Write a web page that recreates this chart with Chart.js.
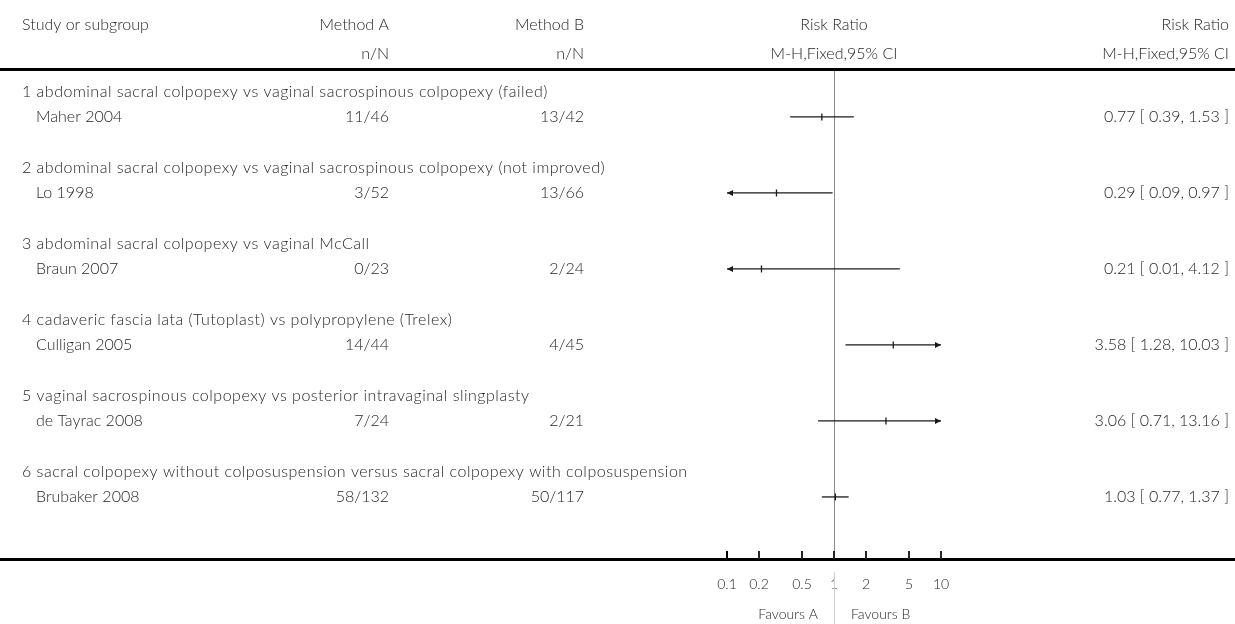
<!DOCTYPE html>
<html>
<head>
<meta charset="utf-8">
<script src="https://cdn.jsdelivr.net/npm/chart.js@4/dist/chart.umd.min.js"></script>
<style>
  html, body { margin: 0; padding: 0; background: #fff; }
  #wrap { position: relative; width: 1235px; height: 624px; }
</style>
</head>
<body>
<div id="wrap"><canvas id="forest"></canvas></div>
<script>
const subgroups = [
  "1 abdominal sacral colpopexy vs vaginal sacrospinous colpopexy (failed)",
  "2 abdominal sacral colpopexy vs vaginal sacrospinous colpopexy (not improved)",
  "3 abdominal sacral colpopexy vs vaginal McCall",
  "4 cadaveric fascia lata (Tutoplast) vs polypropylene (Trelex)",
  "5 vaginal sacrospinous colpopexy vs posterior intravaginal slingplasty",
  "6 sacral colpopexy without colposuspension versus sacral colpopexy with colposuspension"
];
const studies = ["Maher 2004", "Lo 1998", "Braun 2007", "Culligan 2005", "de Tayrac 2008", "Brubaker 2008"];
const methodA = ["11/46", "3/52", "0/23", "14/44", "7/24", "58/132"];
const methodB = ["13/42", "13/66", "2/24", "4/45", "2/21", "50/117"];
const riskRatio = [0.77, 0.29, 0.21, 3.58, 3.06, 1.03];
const ciLow = [0.39, 0.09, 0.01, 1.28, 0.71, 0.77];
const ciHigh = [1.53, 0.97, 4.12, 10.03, 13.16, 1.37];
const tickValues = [0.1, 0.2, 0.5, 1, 2, 5, 10];
const tickLabels = ["0.1", "0.2", "0.5", "1", "2", "5", "10"];
const favours = ["Favours A", "Favours B"];

const X_MIN = 0.1, X_MAX = 10;
const FONT = "Lato, 'Open Sans', sans-serif";
const TEXT = "#262626";

// row positions: subgroup title on 3k+1, study line on 3k+2
const titleRow = subgroups.map((s, i) => 3 * i + 1);
const studyRow = studies.map((s, i) => 3 * i + 2);

const ciSets = studies.map((s, i) => ({
  label: s,
  data: [
    { x: Math.max(ciLow[i], X_MIN), y: studyRow[i] },
    { x: Math.min(ciHigh[i], X_MAX), y: studyRow[i] }
  ],
  showLine: true,
  borderColor: "#1a1a1a",
  borderWidth: 1.3,
  pointRadius: 0,
  clip: false
}));

const pointSet = {
  label: "RR",
  data: riskRatio.map((v, i) => ({ x: v, y: studyRow[i] })),
  pointStyle: "line",
  rotation: 90,
  radius: 3.5,
  borderColor: "#1a1a1a",
  borderWidth: 1.3,
  clip: false
};

function txt(ctx, s, x, y, align, size, spacing) {
  ctx.font = "300 " + (size || 16) + "px " + FONT;
  ctx.letterSpacing = (spacing || 0) + "px";
  ctx.textAlign = align || "left";
  ctx.textBaseline = "middle";
  ctx.fillStyle = TEXT;
  ctx.fillText(s, x, y);
  ctx.letterSpacing = "0px";
}

const forestPlugin = {
  id: "forest",
  beforeDatasetsDraw(chart) {
    const { ctx, chartArea, scales } = chart;
    const x1 = scales.x.getPixelForValue(1);
    ctx.save();
    ctx.strokeStyle = "#8a8a8a";
    ctx.lineWidth = 1;
    ctx.beginPath();
    ctx.moveTo(x1 + 0.5, chartArea.top);
    ctx.lineTo(x1 + 0.5, chartArea.bottom);
    ctx.stroke();
    ctx.restore();
  },
  afterDraw(chart) {
    const { ctx, chartArea, scales, width } = chart;
    const xs = scales.x, ys = scales.y;
    const x1 = xs.getPixelForValue(1);
    ctx.save();

    // header
    txt(ctx, "Study or subgroup", 22, 25);
    txt(ctx, "Method A", 389, 25, "right");
    txt(ctx, "n/N", 389, 54, "right");
    txt(ctx, "Method B", 584, 25, "right");
    txt(ctx, "n/N", 584, 54, "right");
    txt(ctx, "Risk Ratio", x1, 25, "center");
    txt(ctx, "M-H,Fixed,95% CI", x1, 54, "center");
    txt(ctx, "Risk Ratio", 1229, 25, "right");
    txt(ctx, "M-H,Fixed,95% CI", 1229, 54, "right");

    // horizontal rules
    ctx.fillStyle = "#000";
    ctx.fillRect(0, chartArea.top - 2, width, 3);
    ctx.fillRect(0, chartArea.bottom - 1, width, 3);

    // rows
    subgroups.forEach((s, i) => {
      const yt = ys.getPixelForValue(titleRow[i]);
      const yr = ys.getPixelForValue(studyRow[i]);
      txt(ctx, s, 22, yt, "left", 16, 0.5);
      txt(ctx, studies[i], 36, yr);
      txt(ctx, methodA[i], 389, yr, "right");
      txt(ctx, methodB[i], 584, yr, "right");
      txt(ctx, riskRatio[i].toFixed(2) + " [ " + ciLow[i].toFixed(2) + ", " + ciHigh[i].toFixed(2) + " ]", 1229, yr, "right");

      // arrows where the interval runs past the axis
      ctx.fillStyle = "#1a1a1a";
      if (ciLow[i] < X_MIN) {
        const ax = xs.getPixelForValue(X_MIN);
        ctx.beginPath();
        ctx.moveTo(ax, yr);
        ctx.lineTo(ax + 6, yr - 3);
        ctx.lineTo(ax + 6, yr + 3);
        ctx.closePath();
        ctx.fill();
      }
      if (ciHigh[i] > X_MAX) {
        const ax = xs.getPixelForValue(X_MAX);
        ctx.beginPath();
        ctx.moveTo(ax, yr);
        ctx.lineTo(ax - 6, yr - 3);
        ctx.lineTo(ax - 6, yr + 3);
        ctx.closePath();
        ctx.fill();
      }
    });

    // axis ticks and labels
    ctx.fillStyle = "#000";
    tickValues.forEach((v, i) => {
      const px = Math.round(xs.getPixelForValue(v));
      ctx.fillRect(px - 1, chartArea.bottom - 8, 2, 8);
      txt(ctx, tickLabels[i], px, 584, "center", 14);
    });

    // favours
    ctx.strokeStyle = "#d0d0d0";
    ctx.lineWidth = 1;
    ctx.beginPath();
    ctx.moveTo(x1 + 0.5, 572);
    ctx.lineTo(x1 + 0.5, 624);
    ctx.stroke();
    txt(ctx, favours[0], x1 - 16, 614, "right", 14);
    txt(ctx, favours[1], x1 + 17, 614, "left", 14);

    ctx.restore();
  }
};

new Chart(document.getElementById("forest"), {
  type: "scatter",
  data: { datasets: [...ciSets, pointSet] },
  options: {
    responsive: true,
    maintainAspectRatio: false,
    animation: false,
    layout: { padding: { left: 727, right: 294, top: 70, bottom: 65 } },
    plugins: { legend: { display: false }, tooltip: { enabled: false } },
    scales: {
      x: { type: "logarithmic", min: X_MIN, max: X_MAX, display: false },
      y: { type: "linear", min: 0.146, max: 19.45, reverse: true, display: false }
    }
  },
  plugins: [forestPlugin]
});
</script>
</body>
</html>
